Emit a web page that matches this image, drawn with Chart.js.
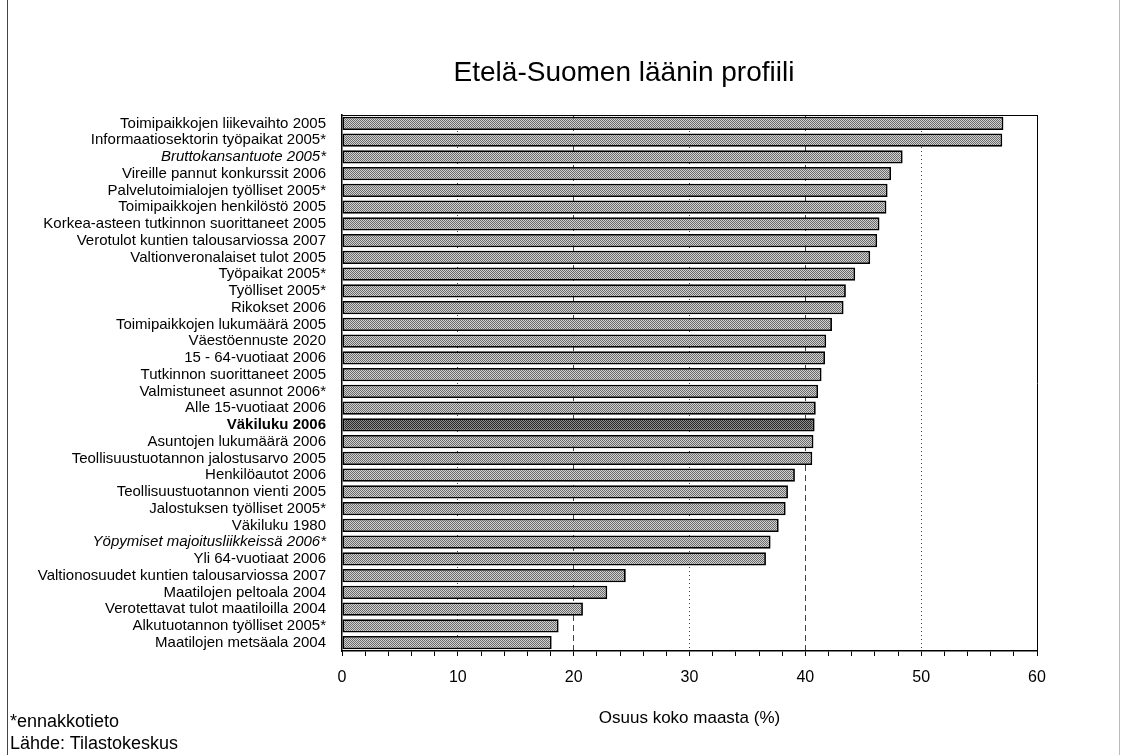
<!DOCTYPE html>
<html>
<head>
<meta charset="utf-8">
<script src="https://cdn.jsdelivr.net/npm/chart.js@4.4.0/dist/chart.umd.min.js"></script>
<style>
  html, body { margin: 0; padding: 0; background: #fff; }
  #kehys { position: relative; width: 1125px; height: 755px; font-family: "Liberation Sans", Arial, sans-serif; }
  #reuna { position: absolute; left: 7px; top: 0; width: 1113px; height: 755px; box-sizing: border-box;
           border-left: 1px solid #444; border-right: 1px solid #bbb; pointer-events: none; }
  #otsikko { position: absolute; left: 624px; top: 56px; transform: translateX(-50%); white-space: nowrap;
             font-size: 28px; line-height: 32px; color: #000; }
  .huom { position: absolute; left: 10px; font-size: 18px; line-height: 21px; color: #000; }
</style>
</head>
<body>
<div id="kehys">
  <canvas id="profiili" width="1125" height="755"></canvas>
  <div id="reuna"></div>
  <div id="otsikko">Etelä-Suomen läänin profiili</div>
  <div class="huom" style="top:711px">*ennakkotieto</div>
  <div class="huom" style="top:733px">Lähde: Tilastokeskus</div>
</div>
<script>
// Osuus koko maasta (%), luettu kuvasta
const indikaattorit = [
  "Toimipaikkojen liikevaihto 2005",
  "Informaatiosektorin työpaikat 2005*",
  "Bruttokansantuote 2005*",
  "Vireille pannut konkurssit 2006",
  "Palvelutoimialojen työlliset 2005*",
  "Toimipaikkojen henkilöstö 2005",
  "Korkea-asteen tutkinnon suorittaneet 2005",
  "Verotulot kuntien talousarviossa 2007",
  "Valtionveronalaiset tulot 2005",
  "Työpaikat 2005*",
  "Työlliset 2005*",
  "Rikokset 2006",
  "Toimipaikkojen lukumäärä 2005",
  "Väestöennuste 2020",
  "15 - 64-vuotiaat 2006",
  "Tutkinnon suorittaneet 2005",
  "Valmistuneet asunnot 2006*",
  "Alle 15-vuotiaat 2006",
  "Väkiluku 2006",
  "Asuntojen lukumäärä 2006",
  "Teollisuustuotannon jalostusarvo 2005",
  "Henkilöautot 2006",
  "Teollisuustuotannon vienti 2005",
  "Jalostuksen työlliset 2005*",
  "Väkiluku 1980",
  "Yöpymiset majoitusliikkeissä 2006*",
  "Yli 64-vuotiaat 2006",
  "Valtionosuudet kuntien talousarviossa 2007",
  "Maatilojen peltoala 2004",
  "Verotettavat tulot maatiloilla 2004",
  "Alkutuotannon työlliset 2005*",
  "Maatilojen metsäala 2004"
];
const osuudet = [57.1, 57.0, 48.4, 47.4, 47.1, 47.0, 46.4, 46.2, 45.6, 44.3, 43.5, 43.3,
                 42.3, 41.8, 41.7, 41.4, 41.1, 40.9, 40.8, 40.7, 40.6, 39.1, 38.5, 38.3,
                 37.7, 37.0, 36.6, 24.5, 22.9, 20.8, 18.7, 18.1];
const kursiivi = ["Bruttokansantuote 2005*", "Yöpymiset majoitusliikkeissä 2006*"];
const korostus = "Väkiluku 2006";
const xMin = 0, xMax = 60;

Chart.defaults.font.family = '"Liberation Sans", Arial, sans-serif';

const canvas = document.getElementById("profiili");
const ctx = canvas.getContext("2d");

// rasterikuvio palkeille
function kuvio(pohja, piste) {
  const c = document.createElement("canvas");
  c.width = 2; c.height = 2;
  const g = c.getContext("2d");
  g.fillStyle = pohja; g.fillRect(0, 0, 2, 2);
  g.fillStyle = piste; g.fillRect(0, 0, 1, 1); g.fillRect(1, 1, 1, 1);
  return ctx.createPattern(c, "repeat");
}
const vaalea = kuvio("#d2d2d2", "#6a6a6a");
const tumma = kuvio("#8c8c8c", "#2a2a2a");

const paaviiva = (v) => v % 10 === 0 && v > xMin && v < xMax;

new Chart(ctx, {
  type: "bar",
  data: {
    labels: indikaattorit,
    datasets: [{
      data: osuudet,
      backgroundColor: (c) => (indikaattorit[c.dataIndex] === korostus ? tumma : vaalea),
      borderColor: "#000",
      borderWidth: 1.8,
      borderSkipped: false,
      barPercentage: 0.8,
      categoryPercentage: 1
    }]
  },
  options: {
    indexAxis: "y",
    responsive: false,
    animation: false,
    devicePixelRatio: 1,
    layout: { padding: { left: 10, right: 88, top: 115, bottom: 0 } },
    plugins: {
      legend: { display: false },
      tooltip: { enabled: false }
    },
    scales: {
      x: {
        type: "linear",
        position: "bottom",
        min: xMin,
        max: xMax,
        ticks: {
          stepSize: 2,
          autoSkip: false,
          maxRotation: 0,
          callback: (v) => (v % 10 === 0 ? v : ""),
          color: "#000",
          font: { size: 16 },
          padding: 12
        },
        grid: {
          color: (c) => (c.tick && paaviiva(c.tick.value) ? "#444" : "rgba(0,0,0,0)"),
          tickColor: "#000",
          tickLength: 5,
          lineWidth: 1
        },
        border: {
          color: "#000",
          width: 1.5,
          dash: (c) => (c.tick ? (c.tick.value % 20 === 0 ? [6, 4] : [1, 3]) : [])
        },
        title: {
          display: true,
          text: "Osuus koko maasta (%)",
          color: "#000",
          font: { size: 17 },
          padding: { top: 0, bottom: 26 }
        },
        afterFit: (s) => { s.height = 104; }
      },
      y: {
        ticks: {
          autoSkip: false,
          color: "#000",
          padding: 16,
          font: (c) => {
            const nimi = indikaattorit[c.index];
            return {
              size: 15,
              style: kursiivi.includes(nimi) ? "italic" : "normal",
              weight: nimi === korostus ? "bold" : "normal"
            };
          }
        },
        grid: { display: false, drawTicks: false },
        border: { color: "#000", width: 1.5 },
        afterFit: (s) => { s.width = 332; }
      },
      ylaReuna: {
        type: "linear",
        position: "top",
        min: xMin,
        max: xMax,
        ticks: { display: false },
        grid: { display: false, drawTicks: false },
        border: { display: true, color: "#000", width: 1 },
        afterFit: (s) => { s.height = 0; }
      },
      oikeaReuna: {
        type: "linear",
        position: "right",
        min: 0,
        max: 1,
        ticks: { display: false },
        grid: { display: false, drawTicks: false },
        border: { display: true, color: "#000", width: 1 },
        afterFit: (s) => { s.width = 0; }
      }
    }
  }
});
</script>
</body>
</html>
